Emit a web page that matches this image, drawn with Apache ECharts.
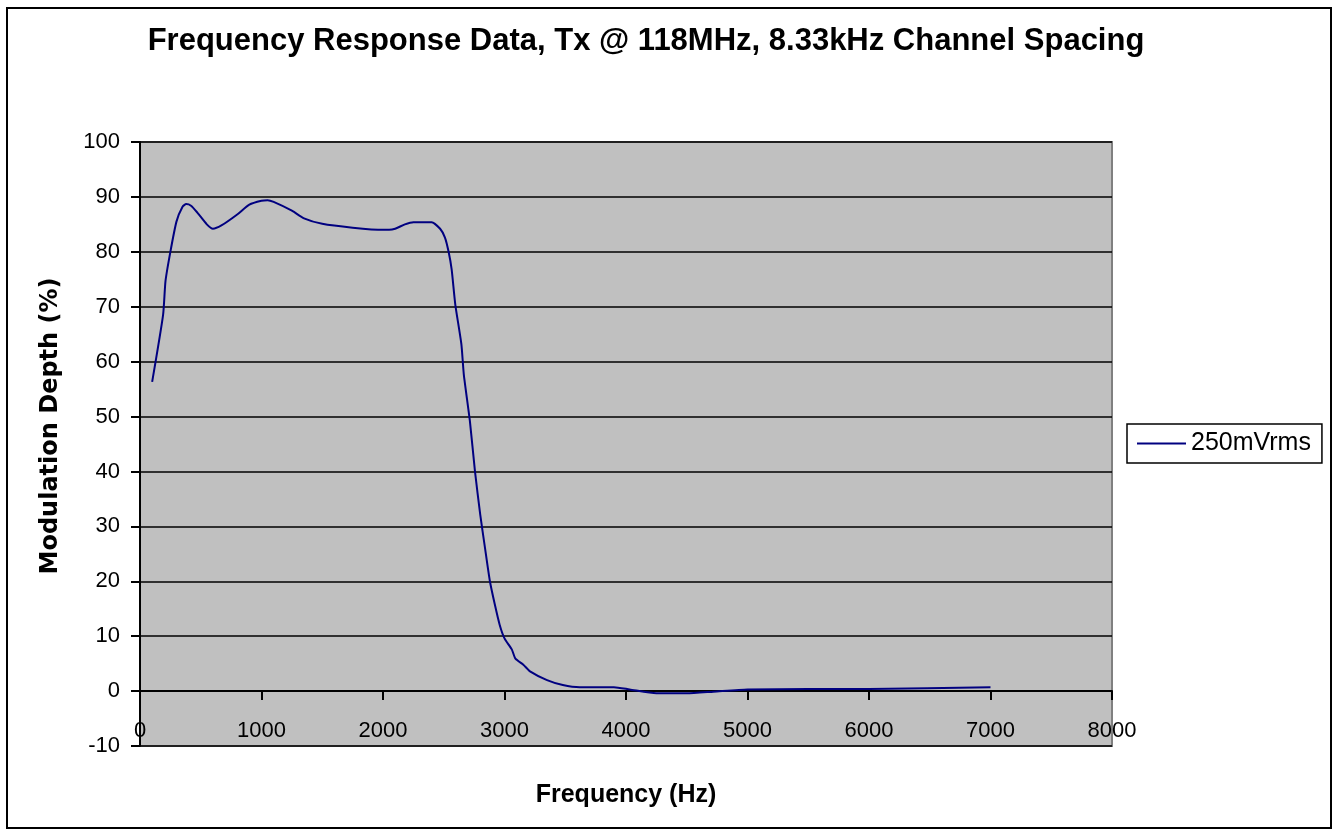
<!DOCTYPE html>
<html>
<head>
<meta charset="utf-8">
<script src="https://cdn.jsdelivr.net/npm/echarts@6/dist/echarts.min.js"></script>
<style>
html,body{margin:0;padding:0;background:#fff;}
#c{width:1335px;height:830px;}
</style>
</head>
<body>
<div id="c"></div>
<script>
const titleText = 'Frequency Response Data, Tx @ 118MHz, 8.33kHz Channel Spacing';
const seriesName = '250mVrms';
const freqHz = [100,190,210,250,300,350,380,420,470,550,600,670,800,900,1000,1050,1100,1250,1350,1500,1750,2000,2050,2100,2180,2250,2400,2470,2510,2540,2565,2595,2645,2665,2715,2757,2800,2840,2880,2920,2960,3000,3060,3090,3155,3210,3350,3480,3620,3900,4030,4250,4500,4720,5000,6000,7000];
const depthPct = [56.3,68.5,74.7,80,85.5,88.2,88.7,88.4,87.2,85,84.2,84.8,86.8,88.6,89.3,89.4,89.1,87.5,86.1,85.1,84.4,84.0,84.0,84.2,85.0,85.4,85.4,84.2,82.6,80,76.8,70.4,63.2,57.7,49.2,40,32.2,26,20,15.8,12.1,9.6,7.6,5.9,4.8,3.6,2.0,1.1,0.7,0.7,0.3,-0.4,-0.4,-0.1,0.3,0.4,0.7];
const xMin = 0, xMax = 8000, xStep = 1000;
const yMin = -10, yMax = 100, yStep = 10;

const data = freqHz.map((f, i) => [f, depthPct[i]]);
const chart = echarts.init(document.getElementById('c'), null, {renderer: 'canvas'});
const FONT = 'Liberation Sans, Arial, sans-serif';
chart.setOption({
  backgroundColor: '#fff',
  animation: false,
  title: {
    text: titleText,
    left: 641, top: 21, textAlign: 'center',
    textStyle: {fontFamily: FONT, fontWeight: 'bold', fontSize: 31, color: '#000'}
  },
  graphic: [{
    type: 'rect', shape: {x: 7, y: 8, width: 1324, height: 820},
    style: {fill: 'none', stroke: '#000', lineWidth: 2}, silent: true, z: -1
  }],
  legend: {
    left: 1127, top: 424,
    orient: 'vertical',
    padding: [7, 11, 7, 10],
    borderColor: '#000', borderWidth: 1.5,
    itemWidth: 49, itemHeight: 2, itemGap: 4,
    icon: 'rect',
    textStyle: {fontFamily: FONT, fontSize: 25, color: '#000'},
    data: [{name: seriesName, icon: 'rect'}]
  },
  grid: {
    left: 140, top: 142, right: 223, bottom: 84,
    outerBoundsMode: 'none', containLabel: false,
    show: true, backgroundColor: '#C0C0C0', borderColor: '#808080', borderWidth: 2
  },
  xAxis: {
    type: 'value', min: xMin, max: xMax, interval: xStep,
    name: 'Frequency (Hz)', nameLocation: 'middle', nameGap: 37,
    nameTextStyle: {fontFamily: FONT, fontWeight: 'bold', fontSize: 25, color: '#000', verticalAlign: 'top'},
    axisLine: {onZero: true, lineStyle: {color: '#000', width: 2}},
    axisTick: {show: true, inside: false, length: 9, lineStyle: {color: '#000', width: 2}},
    axisLabel: {fontFamily: FONT, fontSize: 22, color: '#000', margin: -26, formatter: v => String(v)},
    splitLine: {show: false}
  },
  yAxis: {
    type: 'value', min: yMin, max: yMax, interval: yStep,
    name: 'Modulation Depth (%)', nameLocation: 'middle', nameGap: 77, nameRotate: 90,
    nameTextStyle: {fontFamily: 'DejaVu Sans, sans-serif', fontWeight: 'bold', fontSize: 24, color: '#000', padding: [0, 0, 0, 36]},
    axisLine: {show: true, onZero: false, lineStyle: {color: '#000', width: 2}},
    axisTick: {show: true, inside: false, length: 9, lineStyle: {color: '#000', width: 2}},
    axisLabel: {fontFamily: FONT, fontSize: 22, color: '#000', margin: 20, formatter: v => String(v)},
    splitLine: {show: true, lineStyle: {color: '#000', width: 1.5}}
  },
  series: [{
    name: seriesName, type: 'line', data: data,
    showSymbol: false, smooth: 0.2,
    lineStyle: {color: '#000080', width: 2},
    itemStyle: {color: '#000080'}
  }]
});
</script>
</body>
</html>
